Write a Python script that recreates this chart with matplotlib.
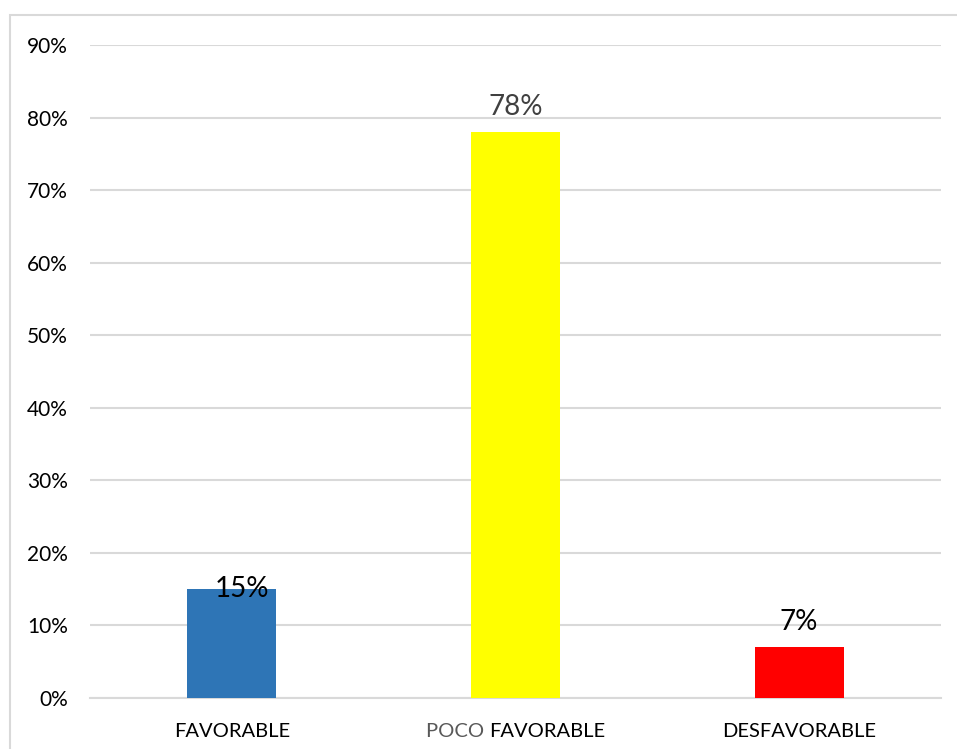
import matplotlib
matplotlib.use("Agg")
import matplotlib.pyplot as plt
from matplotlib.patches import Rectangle
from matplotlib.ticker import FuncFormatter

categories = ["FAVORABLE", "POCO FAVORABLE", "DESFAVORABLE"]
values = [0.15, 0.78, 0.07]
value_labels = ["15%", "78%", "7%"]
bar_colors = ["#2E75B6", "#FFFF00", "#FF0000"]
label_colors = ["#000000", "#404040", "#000000"]
yticks = [0, 0.1, 0.2, 0.3, 0.4, 0.5, 0.6, 0.7, 0.8, 0.9]

plt.rcParams['font.family'] = ['Lato', 'DejaVu Sans']

W, H = 957, 749
fig = plt.figure(figsize=(W / 100, H / 100), dpi=100)
fig.patches.append(Rectangle((10 / W, -0.1), 2, 1 - 15 / H + 0.1, transform=fig.transFigure,
                             facecolor='none', edgecolor='#d9d9d9', linewidth=1.5, zorder=10))

ax = fig.add_axes([90 / W, 1 - 698 / H, (941 - 90) / W, (698 - 45) / H])
ax.set_facecolor('none')
x = list(range(len(categories)))
ax.bar(x, values, width=0.314, color=bar_colors, zorder=3)
ax.set_xlim(-0.5, 2.5)
ax.set_ylim(0, 0.9)
ax.set_yticks(yticks)
ax.yaxis.set_major_formatter(FuncFormatter(lambda v, p: f"{round(v * 100)}%"))
ax.grid(axis='y', color='#d9d9d9', linewidth=1.5, zorder=0)
for s in ['top', 'right', 'left']:
    ax.spines[s].set_visible(False)
ax.spines['bottom'].set_color('#d9d9d9')
ax.spines['bottom'].set_linewidth(1.5)
ax.tick_params(axis='y', length=0, pad=16, labelsize=15, labelcolor='#000000')
ax.tick_params(axis='x', length=0, labelsize=14.5)
ax.set_xticks(x)
ax.set_xticklabels(["FAVORABLE", "", "DESFAVORABLE"])
ax.tick_params(axis='x', pad=18)

# middle label in two colors
words = categories[1].split(" ", 1)
t1 = ax.annotate(words[0] + " ", xy=(1, 0), xycoords=('data', 'axes fraction'),
                 xytext=(0, -18), textcoords='offset points', ha='left', va='top',
                 fontsize=14.5, color='#595959')
t2 = ax.annotate(words[1], xy=(1, 0), xycoords=t1, ha='left', va='bottom',
                 fontsize=14.5, color='#000000')
fig.canvas.draw()
r = fig.canvas.get_renderer()
w1 = t1.get_window_extent(r).width
w2 = t2.get_window_extent(r).width
shift = -(w1 + w2) / 2 * 72 / fig.dpi
t1.set_position((shift, -18))

# value labels
offsets = [(7, -9), (0, 9), (0, 9)]
for xi, v, lab, c, off in zip(x, values, value_labels, label_colors, offsets):
    ax.annotate(lab, xy=(xi, v), xytext=off, textcoords='offset points', ha='center', va='bottom',
                fontsize=20, color=c, zorder=5)

fig.savefig("out.png", dpi=100)
